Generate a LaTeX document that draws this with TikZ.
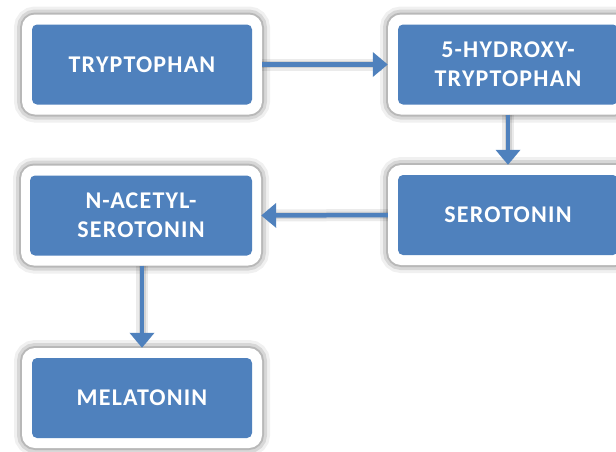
\documentclass[tikz,border=0pt]{standalone}
\usepackage{fontspec}
\setmainfont{Carlito}
\newfontfamily\boxfont[LetterSpace=5]{Carlito}
\usetikzlibrary{arrows.meta}
\definecolor{boxblue}{HTML}{4F81BD}
\begin{document}
\begin{tikzpicture}[x=1pt,y=-1pt,
  glow/.style={
    preaction={draw=black,opacity=0.06,line width=16,xshift=-4pt,yshift=-1pt},
    preaction={draw=black,opacity=0.10,line width=10,xshift=-4pt,yshift=-1pt},
    preaction={draw=black,opacity=0.14,line width=4,xshift=-4pt,yshift=-1pt}},
  outerbox/.style={glow,fill=white,rounded corners=13,minimum width=240pt,minimum height=100pt,inner sep=0pt},
  innerbox/.style={fill=boxblue,rounded corners=5,minimum width=220pt,minimum height=80pt,inner sep=0pt,
    text=white,align=center,font=\boxfont\bfseries\fontsize{24}{29}\selectfont},
  arr/.style={draw=boxblue,line width=4.5pt,-{Triangle[width=24pt,length=15pt]},
    preaction={draw=black,opacity=0.08,line width=12pt,-,shorten >=6pt},
    preaction={draw=black,opacity=0.10,line width=7pt,-,shorten >=6pt}}]
\useasboundingbox (0,0) rectangle (616,451);
\fill[white] (0,0) rectangle (616,451);
% outer frames
\node[outerbox] (oA) at (142,64.5) {};
\node[outerbox] (oB) at (508,64.5) {};
\node[outerbox] (oC) at (508,215) {};
\node[outerbox] (oD) at (141,215.5) {};
\node[outerbox] (oE) at (142,398) {};
% inner boxes
\node[innerbox] (A) at (oA) {TRYPTOPHAN};
\node[innerbox] (B) at (oB) {5-HYDROXY-\\TRYPTOPHAN};
\node[innerbox] (C) at (oC) {SEROTONIN};
\node[innerbox,minimum width=222pt] (D) at (oD) {N-ACETYL-\\SEROTONIN};
\node[innerbox] (E) at (oE) {MELATONIN};
% connectors
\draw[arr] (oA.east) -- (oB.west);
\draw[arr] (oB.south) -- (oC.north);
\draw[arr] (oC.west) -- (oD.east);
\draw[arr] (oD.south -| oE.north) -- (oE.north);
\end{tikzpicture}
\end{document}
